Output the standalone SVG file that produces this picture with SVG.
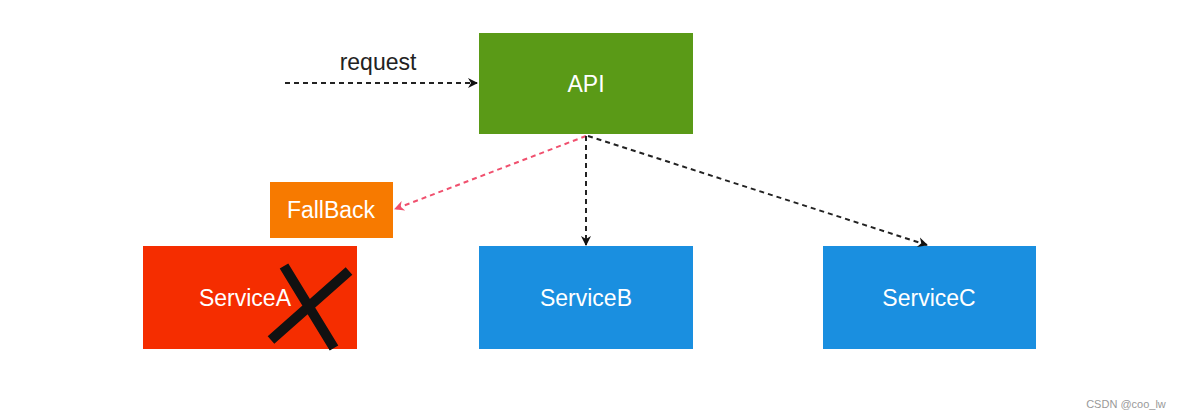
<svg xmlns="http://www.w3.org/2000/svg" width="1179" height="420" viewBox="0 0 1179 420">
<style>
.lbl{font-family:"Liberation Sans",Arial,sans-serif;font-size:23px;fill:#ffffff;text-anchor:middle;dominant-baseline:central}
.c{fill:none;stroke:#222;stroke-width:2;stroke-dasharray:5 4}
</style>
<defs>
<marker id="ah" markerWidth="12" markerHeight="12" refX="10" refY="6" orient="auto" markerUnits="userSpaceOnUse">
<path d="M1,1 L11,6 L1,11 L4,6 Z" fill="#111"/>
</marker>
<marker id="ahp" markerWidth="12" markerHeight="12" refX="10" refY="6" orient="auto" markerUnits="userSpaceOnUse">
<path d="M1,1 L11,6 L1,11 L4,6 Z" fill="#f0506e"/>
</marker>
</defs>
<rect width="1179" height="420" fill="#ffffff"/>
<g id="api">
<rect x="479" y="33" width="214" height="101" fill="#5a9a17"/>
<text class="lbl" x="586" y="84">API</text>
</g>
<g id="fallback">
<rect x="270" y="182" width="123" height="56" fill="#f77a00"/>
<text class="lbl" x="331" y="210">FallBack</text>
</g>
<g id="serviceA">
<rect x="143" y="246" width="214" height="103" fill="#f52d00"/>
<text class="lbl" x="245" y="298">ServiceA</text>
<path d="M284,266 L334,348 M349,271 L271,340" stroke="#111" stroke-width="10" stroke-linecap="butt"/>
</g>
<g id="serviceB">
<rect x="479" y="246" width="214" height="103" fill="#1a8fe0"/>
<text class="lbl" x="586" y="298">ServiceB</text>
</g>
<g id="serviceC">
<rect x="823" y="246" width="213" height="103" fill="#1a8fe0"/>
<text class="lbl" x="929" y="298">ServiceC</text>
</g>
<g id="connectors">
<path class="c" d="M285,83 L477,83" marker-end="url(#ah)"/>
<text x="378" y="70" font-family="'Liberation Sans',Arial,sans-serif" font-size="23" fill="#222" text-anchor="middle">request</text>
<path class="c" d="M586,136 L395,209" style="stroke:#f0506e" marker-end="url(#ahp)"/>
<path class="c" d="M586,136 L586,245" marker-end="url(#ah)"/>
<path class="c" d="M588,136 L927,245" marker-end="url(#ah)"/>
</g>
<text x="1126" y="408" font-family="'Liberation Sans',Arial,sans-serif" font-size="11" fill="#999" text-anchor="middle">CSDN @coo_lw</text>
</svg>
